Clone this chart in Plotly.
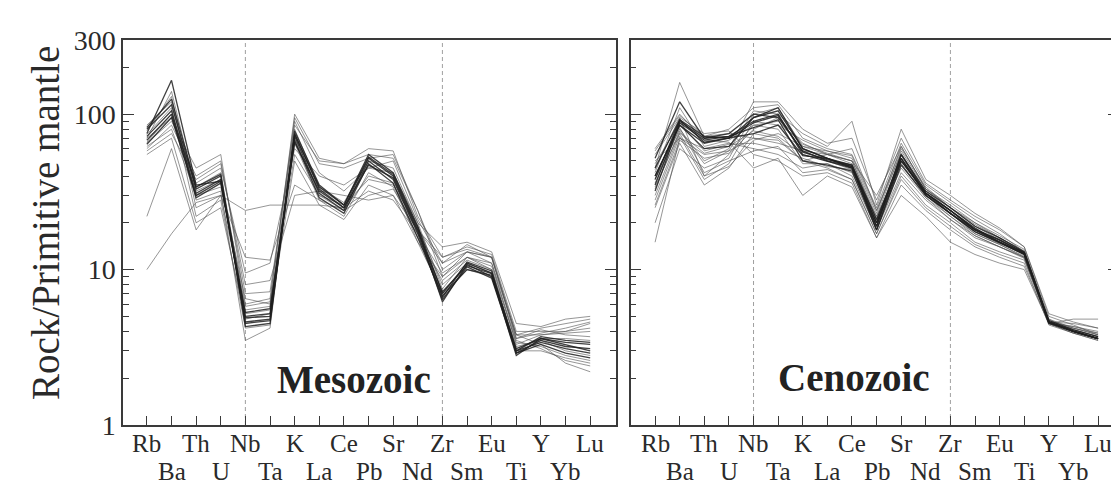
import plotly.graph_objects as go

# ---------------- data ----------------
ELEMENTS = ["Rb", "Ba", "Th", "U", "Nb", "Ta", "K", "La", "Ce", "Pb",
            "Sr", "Nd", "Zr", "Sm", "Eu", "Ti", "Y", "Yb", "Lu"]
Y_TICKS = [1, 10, 100, 300]
Y_MINOR = [2, 3, 4, 5, 6, 7, 8, 9, 20, 30, 40, 50, 60, 70, 80, 90, 200]
PANEL_NAMES = ["Mesozoic", "Cenozoic"]
DIVIDERS = ["Nb", "Zr"]
Y_TITLE = "Rock/Primitive mantle"

# Mesozoic samples (normalised to primitive mantle)
MZ_01 = [72, 105, 31, 38, 4.6, 4.8, 72, 31, 24, 50, 38, 17, 6.4, 10.4, 8.8, 2.9, 3.5, 3.2, 3.1]
MZ_02 = [68, 100, 29, 36, 5.0, 5.2, 68, 29, 23, 48, 36, 16, 6.8, 10.0, 9.2, 2.8, 3.6, 3.3, 3.0]
MZ_03 = [80, 115, 33, 40, 4.3, 4.5, 75, 33, 25, 52, 40, 18, 6.2, 10.8, 9.0, 3.0, 3.4, 3.1, 2.9]
MZ_04 = [75, 165, 35, 37, 4.9, 5.0, 78, 35, 26, 55, 42, 19, 7.0, 11.0, 9.5, 3.1, 3.6, 3.4, 3.3]
MZ_05 = [65, 90, 45, 55, 6.0, 6.5, 95, 48, 45, 52, 55, 24, 10, 13, 12, 3.8, 4.2, 4.5, 4.8]
MZ_06 = [60, 85, 40, 50, 7.0, 7.2, 85, 50, 48, 60, 58, 22, 12, 14, 12.5, 4.0, 4.0, 4.0, 4.2]
MZ_07 = [70, 95, 36, 45, 9.5, 11, 60, 40, 35, 45, 42, 20, 14, 15, 13, 4.5, 4.3, 4.8, 5.0]
MZ_08 = [78, 130, 25, 30, 5.5, 5.8, 65, 28, 22, 42, 34, 16, 8.5, 11.5, 10, 3.4, 3.2, 2.8, 2.6]
MZ_09 = [55, 70, 20, 25, 4.8, 5.2, 50, 26, 21, 35, 30, 15, 9, 12, 10.5, 3.5, 3.1, 2.6, 2.4]
MZ_10 = [22, 60, 18, 30, 24, 26, 26, 26, 25, 32, 28, 17, 9.5, 12, 11, 3.8, 3.3, 2.5, 2.2]
MZ_11 = [10, 17, 27, 30, 12, 11.5, 35, 28, 24, 30, 33, 18, 11, 13, 12, 3.8, 3.8, 4.0, 4.5]
MZ_12 = [62, 80, 30, 34, 6.5, 6.0, 55, 30, 26, 38, 35, 19, 8, 11, 9.5, 3.2, 3.5, 3.0, 2.8]
MZ_13 = [85, 120, 28, 32, 3.5, 4.2, 80, 34, 27, 50, 45, 20, 7.5, 12, 10, 3.0, 3.6, 3.6, 3.5]
MZ_14 = [66, 100, 34, 42, 5.2, 5.5, 90, 42, 32, 45, 50, 21, 11, 14.5, 12, 3.6, 4.1, 3.8, 3.7]
MZ_15 = [74, 110, 22, 28, 4.2, 4.4, 70, 30, 24, 40, 36, 15, 7, 10, 9, 3.0, 3.0, 2.7, 2.5]
MZ_16 = [58, 75, 38, 48, 8.0, 8.5, 30, 32, 30, 28, 30, 18, 12, 13.5, 12, 3.6, 3.9, 4.2, 4.6]
MZ_17 = [70, 140, 32, 38, 5.8, 6.2, 100, 52, 48, 55, 52, 24, 9, 13, 11, 3.3, 3.8, 3.9, 4.0]
MZ_18 = [64, 95, 30, 37, 5.3, 5.6, 66, 32, 25, 47, 39, 17.5, 7.2, 10.6, 9.4, 2.9, 3.3, 2.9, 2.7]
MZ_19 = [82, 125, 34, 41, 4.5, 4.7, 74, 34, 26, 53, 41, 18.5, 6.6, 11.2, 9.8, 3.0, 3.7, 3.5, 3.4]

MESOZOIC_DARK = [MZ_01, MZ_02, MZ_03, MZ_04, MZ_18, MZ_19]
MESOZOIC_LIGHT = [MZ_05, MZ_06, MZ_07, MZ_08, MZ_09, MZ_10, MZ_11, MZ_12,
                  MZ_13, MZ_14, MZ_15, MZ_16, MZ_17]

# Cenozoic samples
CZ_01 = [35, 90, 70, 72, 90, 100, 55, 50, 45, 20, 50, 31, 24, 18, 15.6, 12.8, 4.6, 4.0, 3.6]
CZ_02 = [40, 85, 65, 70, 95, 105, 60, 52, 46, 19, 55, 32, 25, 19, 16, 13, 4.7, 4.1, 3.7]
CZ_03 = [30, 75, 40, 55, 80, 95, 65, 55, 50, 22, 58, 33, 26, 20, 16.5, 13.5, 4.8, 4.2, 3.8]
CZ_04 = [45, 160, 72, 80, 110, 115, 70, 60, 55, 25, 65, 35, 27, 21, 17, 13, 4.6, 4.3, 3.9]
CZ_05 = [50, 70, 60, 65, 60, 55, 45, 48, 40, 18, 42, 28, 21, 16, 14, 12, 4.5, 3.9, 3.5]
CZ_06 = [25, 65, 35, 45, 75, 70, 50, 45, 38, 17, 40, 26, 20, 15, 13, 11.5, 4.6, 4.0, 3.6]
CZ_07 = [55, 95, 75, 78, 55, 50, 40, 42, 36, 16, 35, 24, 18, 14, 12, 10.5, 4.5, 4.3, 4.0]
CZ_08 = [20, 60, 45, 52, 100, 110, 62, 55, 48, 21, 52, 30, 23, 17, 14.5, 12.2, 4.6, 4.5, 4.2]
CZ_09 = [60, 100, 68, 66, 45, 52, 30, 40, 34, 16, 30, 22, 15, 12.5, 11, 10, 4.5, 4.8, 4.8]
CZ_10 = [38, 80, 50, 60, 120, 120, 80, 65, 70, 28, 70, 36, 28, 22, 18, 14, 5.0, 4.4, 3.8]
CZ_11 = [15, 70, 55, 58, 70, 65, 58, 55, 60, 24, 60, 34, 25, 20, 16, 13, 4.8, 4.0, 3.6]
CZ_12 = [42, 110, 62, 68, 85, 80, 48, 48, 42, 19, 48, 30, 22, 17, 14.5, 12, 4.6, 4.1, 3.7]
CZ_13 = [48, 88, 58, 64, 65, 60, 52, 46, 44, 20, 45, 29, 21, 16.5, 14, 11.8, 4.5, 3.9, 3.6]
CZ_14 = [33, 78, 48, 58, 105, 100, 75, 62, 90, 26, 80, 38, 30, 23, 18.5, 14, 5.2, 4.6, 4.2]
CZ_15 = [28, 72, 38, 48, 90, 85, 68, 58, 52, 23, 62, 33, 25, 19, 15.5, 12.5, 4.7, 4.2, 3.8]
CZ_16 = [52, 120, 70, 75, 100, 95, 58, 50, 46, 18, 50, 31, 24, 18.5, 15, 12.6, 4.6, 4.0, 3.6]
CZ_17 = [45, 92, 66, 70, 75, 85, 54, 52, 47, 20, 55, 31, 23, 18, 15, 12.5, 4.5, 4.0, 3.6]
CZ_18 = [36, 82, 42, 50, 58, 62, 42, 44, 38, 17, 38, 25, 19, 14.5, 12.5, 11, 4.4, 3.9, 3.5]
CZ_19 = [58, 98, 72, 75, 70, 68, 50, 55, 50, 30, 62, 33, 25, 19.5, 16, 13.2, 4.7, 4.1, 3.7]
CZ_20 = [26, 68, 52, 56, 85, 90, 64, 56, 50, 21, 54, 31, 24, 18, 15, 12.5, 4.6, 4.1, 3.7]
CZ_21 = [40, 85, 60, 62, 95, 110, 60, 52, 45, 19, 52, 30, 23, 17.5, 15, 12.8, 4.6, 4.0, 3.6]
CZ_22 = [34, 76, 56, 62, 78, 72, 55, 50, 44, 22, 48, 29, 22, 16.5, 14, 12, 4.5, 4.2, 3.9]
CZ_23 = [44, 95, 40, 46, 68, 75, 62, 58, 54, 24, 56, 32, 24, 18, 15, 12.4, 4.6, 4.0, 3.6]
CZ_24 = [32, 88, 68, 72, 82, 92, 50, 47, 43, 18, 47, 30, 23, 17.5, 14.8, 12.6, 4.6, 4.0, 3.6]
CZ_25 = [38, 92, 72, 70, 88, 98, 57, 51, 47, 21, 52, 31, 24, 18.2, 15.4, 12.9, 4.6, 4.0, 3.6]

CENOZOIC_DARK = [CZ_01, CZ_02, CZ_16, CZ_17, CZ_21, CZ_24, CZ_25]
CENOZOIC_LIGHT = [CZ_03, CZ_04, CZ_05, CZ_06, CZ_07, CZ_08, CZ_09, CZ_10, CZ_11,
                  CZ_12, CZ_13, CZ_14, CZ_15, CZ_18, CZ_19, CZ_20, CZ_22, CZ_23]

# ---------------- styling ----------------
SERIF = "Liberation Serif, Times New Roman, serif"
AXIS_COL = "#3a3a3a"
TEXT_COL = "#2a2a2a"
LIGHT_COL = "rgba(80,80,80,0.6)"
DARK_COL = "rgba(30,30,30,0.85)"

fig = go.Figure()

panels = [
    ("x", "y", MESOZOIC_LIGHT, MESOZOIC_DARK),
    ("x2", "y2", CENOZOIC_LIGHT, CENOZOIC_DARK),
]
for xa, ya, light, dark in panels:
    for s in light:
        fig.add_trace(go.Scatter(x=ELEMENTS, y=s, mode="lines", xaxis=xa, yaxis=ya,
                                 line=dict(color=LIGHT_COL, width=1), showlegend=False,
                                 hoverinfo="skip"))
    for s in dark:
        fig.add_trace(go.Scatter(x=ELEMENTS, y=s, mode="lines", xaxis=xa, yaxis=ya,
                                 line=dict(color=DARK_COL, width=1.3), showlegend=False,
                                 hoverinfo="skip"))

xcommon = dict(type="category", tickmode="array", tickvals=ELEMENTS, showticklabels=False,
               ticks="inside", ticklen=9, tickwidth=1.2, tickcolor=AXIS_COL,
               showline=True, linecolor=AXIS_COL, linewidth=1.5, mirror=True,
               showgrid=False, zeroline=False, automargin=False)
ycommon = dict(type="log", range=[0, 2.4771], tickmode="array", tickvals=Y_TICKS,
               ticktext=[str(v) for v in Y_TICKS],
               ticks="inside", ticklen=11, tickwidth=1.2, tickcolor=AXIS_COL,
               minor=dict(tickmode="array", tickvals=Y_MINOR, ticks="inside",
                          ticklen=6, tickwidth=1, tickcolor=AXIS_COL, showgrid=False),
               showline=True, linecolor=AXIS_COL, linewidth=1.5, mirror="allticks",
               showgrid=False, zeroline=False, automargin=False,
               tickfont=dict(family=SERIF, size=28, color=TEXT_COL))

# the page adds an 8px body margin, so the figure is laid out 8px smaller
fig.update_layout(
    width=1111, height=484,
    margin=dict(l=0, r=0, t=32, b=67, autoexpand=False),
    paper_bgcolor="white", plot_bgcolor="white",
    xaxis=dict(xcommon, domain=[0.1035, 0.5473], range=[-0.97, 19.05], anchor="y"),
    xaxis2=dict(xcommon, domain=[0.5605, 1.0], range=[-0.99, 18.85], anchor="y2"),
    yaxis=dict(ycommon, domain=[0, 1], anchor="x"),
    yaxis2=dict(ycommon, domain=[0, 1], anchor="x2", showticklabels=False),
)

# element labels in two staggered rows
for xa in ["x", "x2"]:
    for i, el in enumerate(ELEMENTS):
        fig.add_annotation(text=el, xref=xa, yref="paper", x=el,
                           y=-0.047 if i % 2 == 0 else -0.122,
                           showarrow=False, yanchor="middle", xanchor="center",
                           font=dict(family=SERIF, size=25, color=TEXT_COL))

# dividing lines at Nb and Zr
for xa, ya in [("x", "y"), ("x2", "y2")]:
    for d in DIVIDERS:
        fig.add_shape(type="line", xref=xa, yref=ya + " domain", x0=d, x1=d, y0=0, y1=1,
                      line=dict(color="rgba(120,120,120,0.7)", width=1, dash="4px,3px"),
                      layer="below")

# panel labels
fig.add_annotation(text="<b>" + PANEL_NAMES[0] + "</b>", xref="x", yref="paper",
                   x=8.4, y=0.117, showarrow=False, yanchor="middle",
                   font=dict(family=SERIF, size=39, color="#222"))
fig.add_annotation(text="<b>" + PANEL_NAMES[1] + "</b>", xref="x2", yref="paper",
                   x=8.1, y=0.123, showarrow=False, yanchor="middle",
                   font=dict(family=SERIF, size=39, color="#222"))

# y-axis title
fig.add_annotation(text=Y_TITLE, xref="paper", yref="paper", x=0.0342, y=0.5247,
                   textangle=-90, showarrow=False, xanchor="center", yanchor="middle",
                   font=dict(family=SERIF, size=39, color=TEXT_COL))

fig.write_html("out.html")
